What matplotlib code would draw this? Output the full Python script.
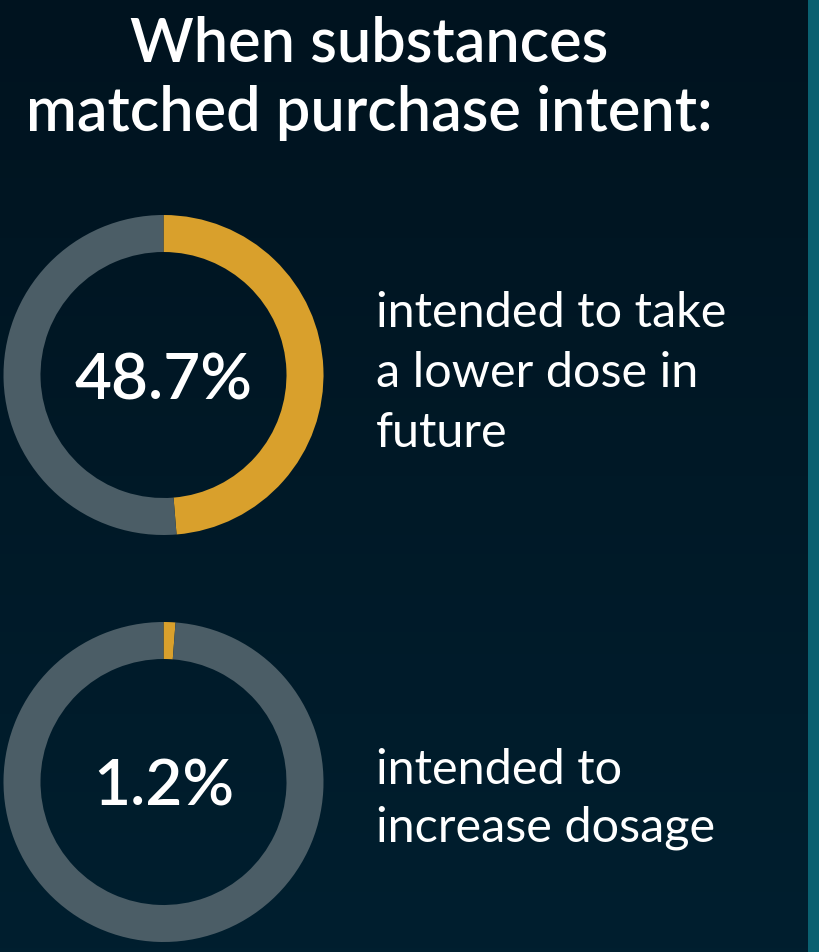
import matplotlib
matplotlib.use("Agg")
import matplotlib.pyplot as plt
import numpy as np
from matplotlib.colors import LinearSegmentedColormap

title_lines = ["When substances", "matched purchase intent:"]
percents = [48.7, 1.2]
labels = ["48.7%", "1.2%"]
descriptions = [["intended to take", "a lower dose in", "future"],
                ["intended to", "increase dosage"]]

GOLD = "#d9a02c"
GREY = "#4b5d66"

W, H = 820, 952
fig = plt.figure(figsize=(W/100, H/100), dpi=100)
ax = fig.add_axes([0, 0, 1, 1])

# background gradient
cmap = LinearSegmentedColormap.from_list("bg", ["#00131f", "#001f2f"])
grad = np.linspace(0, 1, 256).reshape(-1, 1)
ax.imshow(grad, cmap=cmap, extent=[0, 808, H, 0], aspect="auto", zorder=0)
ax.add_patch(plt.Rectangle((808, 0), 12, H, color="#0a6070", zorder=1, lw=0))

# title
title_base = [62, 131]
for line, yb in zip(title_lines, title_base):
    ax.text(369, yb, line, ha="center", va="baseline", color="white",
            fontsize=44, fontfamily="Lato", fontweight="semibold", zorder=3)

centers = [(163.5, 375), (163.5, 782)]
pct_base = [399, 805]
desc_base = [[327, 387, 447], [784, 842]]
for (cx, cy), p, lab, desc, pb, db in zip(centers, percents, labels, descriptions, pct_base, desc_base):
    # y axis is inverted: startangle=-90 is screen top, counterclock=True is screen clockwise
    ax.pie([p, 100 - p], colors=[GOLD, GREY], startangle=-90, counterclock=True,
           center=(cx, cy), radius=160, wedgeprops=dict(width=37, linewidth=0),
           frame=True)
    ax.text(cx, pb, lab, ha="center", va="baseline", color="white",
            fontsize=46, fontfamily="Lato", fontweight="semibold", zorder=3)
    for line, yb in zip(desc, db):
        ax.text(376, yb, line, ha="left", va="baseline", color="white",
                fontsize=35, fontfamily="Lato", fontweight="normal", zorder=3)

ax.set_xlim(0, W)
ax.set_ylim(H, 0)
ax.set_aspect("auto")
ax.axis("off")
fig.savefig("out.png", dpi=100, facecolor="#00131f")
